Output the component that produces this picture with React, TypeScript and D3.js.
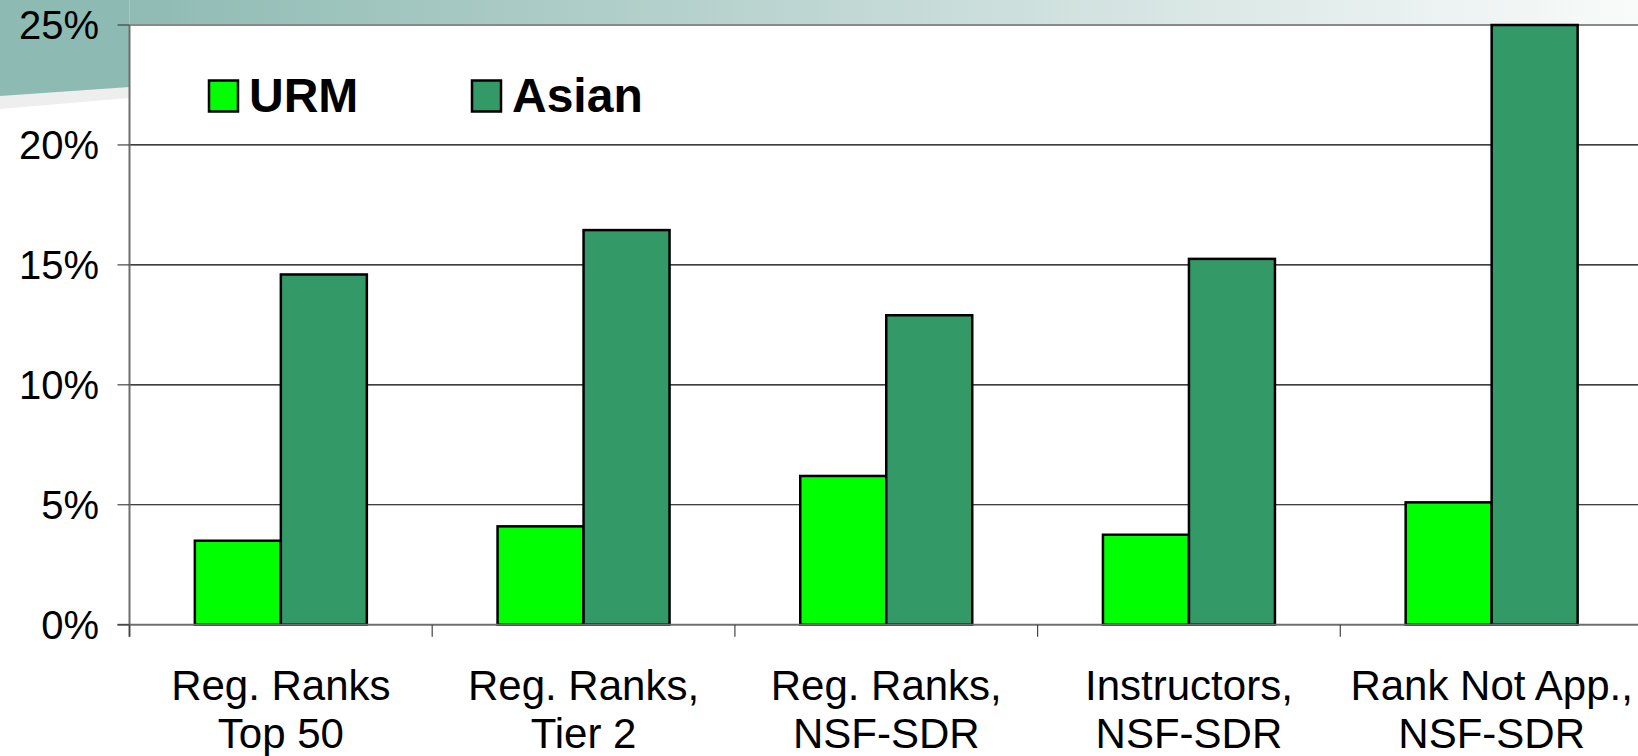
import React from "react";
import * as d3 from "d3";

const categories: string[][] = [
  ["Reg. Ranks", "Top 50"],
  ["Reg. Ranks,", "Tier 2"],
  ["Reg. Ranks,", "NSF-SDR"],
  ["Instructors,", "NSF-SDR"],
  ["Rank Not App.,", "NSF-SDR"],
];
const seriesNames = ["URM", "Asian"];
const urmValues = [3.5, 4.1, 6.2, 3.75, 5.1];
const asianValues = [14.6, 16.45, 12.9, 15.25, 25];
const yTicks = [0, 5, 10, 15, 20, 25];
const colors = ["#00ff00", "#339966"];

const W = 1638;
const H = 756;
const left = 129.5;
const top = 25;
const bottom = 624.7;
const step = 302.7;

export default function App() {
  const keys = categories.map((c) => c.join(" "));
  const x0 = d3.scaleBand<string>().domain(keys).range([left, left + step * keys.length]).padding(0);
  const x1 = d3.scaleBand<string>().domain(seriesNames).range([0, x0.bandwidth()]).paddingInner(0).paddingOuter(0.76);
  const y = d3.scaleLinear().domain([0, 25]).range([bottom, top]);
  const values = [urmValues, asianValues];
  const font = "'Liberation Sans', Arial, sans-serif";

  return (
    <svg width={W} height={H} style={{ position: "absolute", left: 0, top: 0, background: "#fff" }} fontFamily={font}>
      <defs>
        <linearGradient id="topband" x1="0" x2="1" y1="0" y2="0">
          <stop offset="0" stopColor="#86b6ae" />
          <stop offset="0.45" stopColor="#b9d3cf" />
          <stop offset="0.9" stopColor="#eef4f3" />
          <stop offset="1" stopColor="#f8fbfa" />
        </linearGradient>
      </defs>
      {/* decorative background */}
      <rect x={0} y={0} width={W} height={top} fill="url(#topband)" />
      <polygon points={`0,0 ${left},0 ${left},98 0,109`} fill="#eeeeee" />
      <polygon points={`0,0 ${left},0 ${left},87 0,96`} fill="#8dbab3" />
      {/* plot area */}
      <rect x={left} y={top} width={W - left} height={bottom - top} fill="#ffffff" />
      {/* gridlines */}
      {yTicks.filter((t) => t > 0 && t < 25).map((t) => (
        <line key={t} x1={left} x2={W} y1={y(t)} y2={y(t)} stroke="#000" strokeWidth={1.2} />
      ))}
      <line x1={left} x2={W} y1={top} y2={top} stroke="#8a8a8a" strokeWidth={2} />
      {/* bars */}
      {keys.map((k, i) => (
        <g key={k} transform={`translate(${x0(k)},0)`}>
          {seriesNames.map((s, j) => (
            <rect
              key={s}
              x={x1(s)}
              y={y(values[j][i])}
              width={x1.bandwidth()}
              height={y(0) - y(values[j][i])}
              fill={colors[j]}
              stroke="#000"
              strokeWidth={2.5}
            />
          ))}
        </g>
      ))}
      {/* axes */}
      <line x1={left} x2={left} y1={top} y2={bottom + 12} stroke="#6e6e6e" strokeWidth={2} />
      <line x1={left - 12} x2={W} y1={bottom} y2={bottom} stroke="#6e6e6e" strokeWidth={2} />
      {yTicks.map((t) => (
        <g key={t}>
          <line x1={left - 12} x2={left} y1={y(t)} y2={y(t)} stroke="#444" strokeWidth={1.2} />
          <text x={99} y={y(t)} dy="0.36em" textAnchor="end" fontSize={40} fill="#000">
            {`${t}%`}
          </text>
        </g>
      ))}
      {keys.map((k, i) => (
        <line key={k} x1={x0(k)!} x2={x0(k)!} y1={bottom} y2={bottom + 12} stroke="#444" strokeWidth={1.2} />
      ))}
      {categories.map((c, i) => {
        const cx = x0(keys[i])! + x0.bandwidth() / 2;
        return (
          <text key={i} x={cx} textAnchor="middle" fontSize={42} fill="#000">
            <tspan x={cx} y={700}>{c[0]}</tspan>
            <tspan x={cx} y={748}>{c[1]}</tspan>
          </text>
        );
      })}
      {/* legend */}
      {seriesNames.map((s, j) => {
        const lx = [209, 472][j];
        return (
          <g key={s}>
            <rect x={lx} y={80.5} width={29} height={31} fill={colors[j]} stroke="#000" strokeWidth={2.5} />
            <text x={lx + 40} y={111.5} fontSize={48} fontWeight="bold" fill="#000">
              {s}
            </text>
          </g>
        );
      })}
    </svg>
  );
}
